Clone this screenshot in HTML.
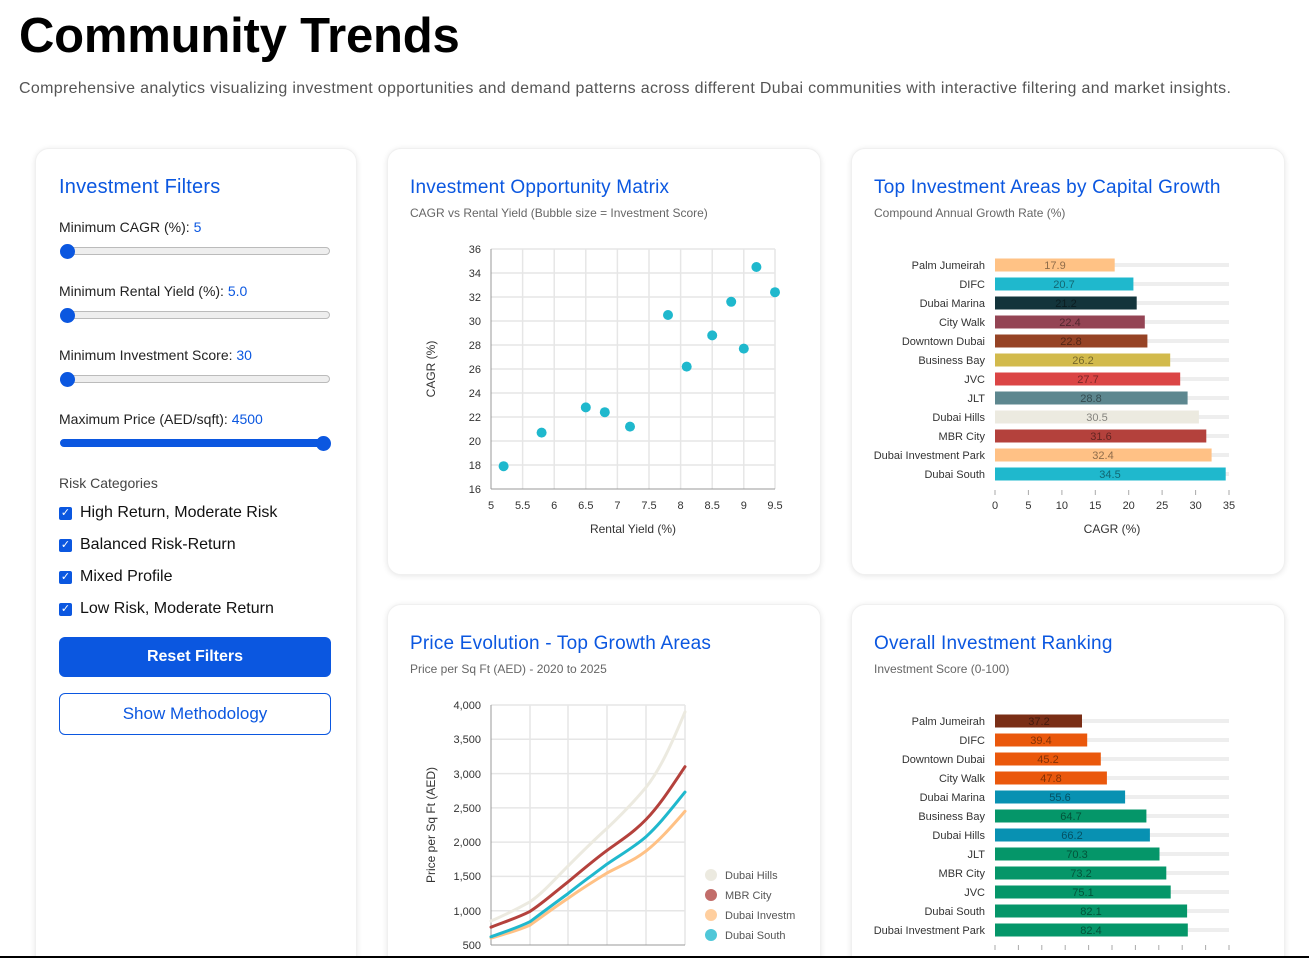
<!DOCTYPE html>
<html><head><meta charset="utf-8"><style>
html,body{margin:0;width:1309px;height:958px;overflow:hidden}
body{background:#fff;font-family:"Liberation Sans",sans-serif;position:relative}
.a{position:absolute;white-space:nowrap}
.card{position:absolute;background:#fff;border-radius:14px;box-shadow:0 1px 6px rgba(0,0,0,0.10);border:1px solid #f0f0f0}
.h{color:#0b57e0;font-size:19px;letter-spacing:0.2px}
.sub{color:#666;font-size:12px}
.lbl{font-size:14px;color:#222}
.lbl b{color:#0b57e0;font-weight:normal}
.track{position:absolute;height:6px;border-radius:4px;background:#eee;border:1px solid #bbb}
.thumb{position:absolute;width:15px;height:15px;border-radius:50%;background:#0b57e0}
.cb{position:absolute;width:13px;height:13px;background:#0b57e0;border-radius:2px;color:#fff;font-size:11px;line-height:13px;text-align:center}
.ck{font-size:16px;color:#111}
</style></head><body>
<div class="a" style="left:19px;top:8px;font-size:49px;font-weight:bold;color:#000;letter-spacing:-0.2px">Community Trends</div>
<div class="a" style="left:19px;top:80px;font-size:16px;color:#555;letter-spacing:0.33px">Comprehensive analytics visualizing investment opportunities and demand patterns across different Dubai communities with interactive filtering and market insights.</div>

<div class="card" style="left:35px;top:148px;width:320px;height:830px"></div>
<div class="card" style="left:387px;top:148px;width:432px;height:425px"></div>
<div class="card" style="left:851px;top:148px;width:432px;height:425px"></div>
<div class="card" style="left:387px;top:604px;width:432px;height:380px"></div>
<div class="card" style="left:851px;top:604px;width:432px;height:380px"></div>

<div class="a h" style="left:59px;top:176px;font-size:20px">Investment Filters</div>
<div class="a lbl" style="left:59px;top:219px">Minimum CAGR (%): <b>5</b></div>
<div class="track" style="left:60px;top:247px;width:268px"></div><div class="thumb" style="left:60px;top:244px"></div>
<div class="a lbl" style="left:59px;top:283px">Minimum Rental Yield (%): <b>5.0</b></div>
<div class="track" style="left:60px;top:311px;width:268px"></div><div class="thumb" style="left:60px;top:308px"></div>
<div class="a lbl" style="left:59px;top:347px">Minimum Investment Score: <b>30</b></div>
<div class="track" style="left:60px;top:375px;width:268px"></div><div class="thumb" style="left:60px;top:372px"></div>
<div class="a lbl" style="left:59px;top:411px">Maximum Price (AED/sqft): <b>4500</b></div>
<div class="track" style="left:60px;top:439px;width:268px;background:#0b57e0;border-color:#0b57e0"></div><div class="thumb" style="left:316px;top:436px"></div>
<div class="a" style="left:59px;top:475px;font-size:14px;color:#444">Risk Categories</div>
<div class="cb" style="left:59px;top:507px">✓</div><div class="a ck" style="left:80px;top:504px">High Return, Moderate Risk</div>
<div class="cb" style="left:59px;top:539px">✓</div><div class="a ck" style="left:80px;top:536px">Balanced Risk-Return</div>
<div class="cb" style="left:59px;top:571px">✓</div><div class="a ck" style="left:80px;top:568px">Mixed Profile</div>
<div class="cb" style="left:59px;top:603px">✓</div><div class="a ck" style="left:80px;top:600px">Low Risk, Moderate Return</div>
<div class="a" style="left:59px;top:637px;width:272px;height:40px;background:#0b57e0;border-radius:6px;color:#fff;font-size:16px;font-weight:bold;text-align:center;line-height:40px">Reset Filters</div>
<div class="a" style="left:59px;top:693px;width:270px;height:40px;border:1px solid #0b57e0;border-radius:6px;color:#0b57e0;font-size:17px;text-align:center;line-height:40px">Show Methodology</div>

<div class="a h" style="left:410px;top:177px">Investment Opportunity Matrix</div>
<div class="a sub" style="left:410px;top:206px">CAGR vs Rental Yield (Bubble size = Investment Score)</div>
<div class="a h" style="left:874px;top:177px">Top Investment Areas by Capital Growth</div>
<div class="a sub" style="left:874px;top:206px">Compound Annual Growth Rate (%)</div>
<div class="a h" style="left:410px;top:633px">Price Evolution - Top Growth Areas</div>
<div class="a sub" style="left:410px;top:662px">Price per Sq Ft (AED) - 2020 to 2025</div>
<div class="a h" style="left:874px;top:633px">Overall Investment Ranking</div>
<div class="a sub" style="left:874px;top:662px">Investment Score (0-100)</div>

<svg class="a" style="left:0;top:0" width="1309" height="958" font-family="Liberation Sans, sans-serif" font-size="11" fill="#333">
<g stroke="#e6e6e6" stroke-width="1.5">
<line x1="491" y1="249" x2="775" y2="249"/><line x1="491" y1="273" x2="775" y2="273"/><line x1="491" y1="297" x2="775" y2="297"/><line x1="491" y1="321" x2="775" y2="321"/><line x1="491" y1="345" x2="775" y2="345"/><line x1="491" y1="369" x2="775" y2="369"/><line x1="491" y1="393" x2="775" y2="393"/><line x1="491" y1="417" x2="775" y2="417"/><line x1="491" y1="441" x2="775" y2="441"/><line x1="491" y1="465" x2="775" y2="465"/>
<line x1="522.6" y1="249" x2="522.6" y2="489"/><line x1="554.2" y1="249" x2="554.2" y2="489"/><line x1="585.8" y1="249" x2="585.8" y2="489"/><line x1="617.4" y1="249" x2="617.4" y2="489"/><line x1="649" y1="249" x2="649" y2="489"/><line x1="680.6" y1="249" x2="680.6" y2="489"/><line x1="712.2" y1="249" x2="712.2" y2="489"/><line x1="743.8" y1="249" x2="743.8" y2="489"/><line x1="775" y1="249" x2="775" y2="489"/>
</g>
<g stroke="#999"><line x1="491" y1="249" x2="491" y2="489"/><line x1="491" y1="489" x2="775" y2="489"/></g>
<g text-anchor="end"><text x="481" y="253">36</text><text x="481" y="277">34</text><text x="481" y="301">32</text><text x="481" y="325">30</text><text x="481" y="349">28</text><text x="481" y="373">26</text><text x="481" y="397">24</text><text x="481" y="421">22</text><text x="481" y="445">20</text><text x="481" y="469">18</text><text x="481" y="493">16</text></g>
<g text-anchor="middle"><text x="491" y="509">5</text><text x="522.6" y="509">5.5</text><text x="554.2" y="509">6</text><text x="585.8" y="509">6.5</text><text x="617.4" y="509">7</text><text x="649" y="509">7.5</text><text x="680.6" y="509">8</text><text x="712.2" y="509">8.5</text><text x="743.8" y="509">9</text><text x="775" y="509">9.5</text>
<text x="633" y="533" font-size="12">Rental Yield (%)</text>
<text transform="translate(435,369) rotate(-90)" font-size="12">CAGR (%)</text></g>
<g fill="#1fb8cd"><circle cx="503.6" cy="466.2" r="5"/><circle cx="541.6" cy="432.6" r="5"/><circle cx="585.8" cy="407.4" r="5"/><circle cx="604.8" cy="412.2" r="5"/><circle cx="630" cy="426.6" r="5"/><circle cx="668" cy="315" r="5"/><circle cx="686.7" cy="366.6" r="5"/><circle cx="712.2" cy="335.4" r="5"/><circle cx="731.2" cy="301.8" r="5"/><circle cx="743.8" cy="348.6" r="5"/><circle cx="756.4" cy="267" r="5"/><circle cx="775" cy="292.2" r="5"/></g>

<g fill="#eee"><rect x="995" y="263" width="234" height="4"/><rect x="995" y="282" width="234" height="4"/><rect x="995" y="301" width="234" height="4"/><rect x="995" y="320" width="234" height="4"/><rect x="995" y="339" width="234" height="4"/><rect x="995" y="358" width="234" height="4"/><rect x="995" y="377" width="234" height="4"/><rect x="995" y="396" width="234" height="4"/><rect x="995" y="415" width="234" height="4"/><rect x="995" y="434" width="234" height="4"/><rect x="995" y="453" width="234" height="4"/><rect x="995" y="472" width="234" height="4"/></g>
<rect x="995" y="258.5" width="119.7" height="13" fill="#ffc285"/>
<rect x="995" y="277.5" width="138.4" height="13" fill="#1fb8cd"/>
<rect x="995" y="296.5" width="141.7" height="13" fill="#13343b"/>
<rect x="995" y="315.5" width="149.8" height="13" fill="#944454"/>
<rect x="995" y="334.5" width="152.4" height="13" fill="#964325"/>
<rect x="995" y="353.5" width="175.2" height="13" fill="#d2ba4c"/>
<rect x="995" y="372.5" width="185.2" height="13" fill="#db4545"/>
<rect x="995" y="391.5" width="192.6" height="13" fill="#5d878f"/>
<rect x="995" y="410.5" width="203.9" height="13" fill="#eceae0"/>
<rect x="995" y="429.5" width="211.3" height="13" fill="#b4413c"/>
<rect x="995" y="448.5" width="216.6" height="13" fill="#ffc185"/>
<rect x="995" y="467.5" width="230.7" height="13" fill="#1fb8cd"/>
<g text-anchor="middle" fill="rgba(0,0,0,0.45)"><text x="1055" y="269">17.9</text><text x="1064" y="288">20.7</text><text x="1066" y="307">21.2</text><text x="1070" y="326">22.4</text><text x="1071" y="345">22.8</text><text x="1083" y="364">26.2</text><text x="1088" y="383">27.7</text><text x="1091" y="402">28.8</text><text x="1097" y="421">30.5</text><text x="1101" y="440">31.6</text><text x="1103" y="459">32.4</text><text x="1110" y="478">34.5</text></g>
<g text-anchor="end"><text x="985" y="269">Palm Jumeirah</text><text x="985" y="288">DIFC</text><text x="985" y="307">Dubai Marina</text><text x="985" y="326">City Walk</text><text x="985" y="345">Downtown Dubai</text><text x="985" y="364">Business Bay</text><text x="985" y="383">JVC</text><text x="985" y="402">JLT</text><text x="985" y="421">Dubai Hills</text><text x="985" y="440">MBR City</text><text x="985" y="459">Dubai Investment Park</text><text x="985" y="478">Dubai South</text></g>
<g text-anchor="middle"><text x="995" y="509">0</text><text x="1028.4" y="509">5</text><text x="1061.9" y="509">10</text><text x="1095.3" y="509">15</text><text x="1128.7" y="509">20</text><text x="1162.1" y="509">25</text><text x="1195.6" y="509">30</text><text x="1229" y="509">35</text><text x="1112" y="533" font-size="12">CAGR (%)</text></g>
<g stroke="#aaa"><line x1="995" y1="490" x2="995" y2="495"/><line x1="1028.4" y1="490" x2="1028.4" y2="495"/><line x1="1061.9" y1="490" x2="1061.9" y2="495"/><line x1="1095.3" y1="490" x2="1095.3" y2="495"/><line x1="1128.7" y1="490" x2="1128.7" y2="495"/><line x1="1162.1" y1="490" x2="1162.1" y2="495"/><line x1="1195.6" y1="490" x2="1195.6" y2="495"/><line x1="1229" y1="490" x2="1229" y2="495"/></g>

<g fill="#eee"><rect x="995" y="719" width="234" height="4"/><rect x="995" y="738" width="234" height="4"/><rect x="995" y="757" width="234" height="4"/><rect x="995" y="776" width="234" height="4"/><rect x="995" y="795" width="234" height="4"/><rect x="995" y="814" width="234" height="4"/><rect x="995" y="833" width="234" height="4"/><rect x="995" y="852" width="234" height="4"/><rect x="995" y="871" width="234" height="4"/><rect x="995" y="890" width="234" height="4"/><rect x="995" y="909" width="234" height="4"/><rect x="995" y="928" width="234" height="4"/></g>
<rect x="995" y="714.5" width="87" height="13" fill="#7a2e16"/>
<rect x="995" y="733.5" width="92.2" height="13" fill="#ea580c"/>
<rect x="995" y="752.5" width="105.8" height="13" fill="#ea580c"/>
<rect x="995" y="771.5" width="111.9" height="13" fill="#ea580c"/>
<rect x="995" y="790.5" width="130.1" height="13" fill="#0891b2"/>
<rect x="995" y="809.5" width="151.4" height="13" fill="#059669"/>
<rect x="995" y="828.5" width="154.9" height="13" fill="#0891b2"/>
<rect x="995" y="847.5" width="164.5" height="13" fill="#059669"/>
<rect x="995" y="866.5" width="171.3" height="13" fill="#059669"/>
<rect x="995" y="885.5" width="175.7" height="13" fill="#059669"/>
<rect x="995" y="904.5" width="192.1" height="13" fill="#059669"/>
<rect x="995" y="923.5" width="192.8" height="13" fill="#059669"/>
<g text-anchor="middle" fill="rgba(0,0,0,0.45)"><text x="1039" y="725">37.2</text><text x="1041" y="744">39.4</text><text x="1048" y="763">45.2</text><text x="1051" y="782">47.8</text><text x="1060" y="801">55.6</text><text x="1071" y="820">64.7</text><text x="1072" y="839">66.2</text><text x="1077" y="858">70.3</text><text x="1081" y="877">73.2</text><text x="1083" y="896">75.1</text><text x="1091" y="915">82.1</text><text x="1091" y="934">82.4</text></g>
<g text-anchor="end"><text x="985" y="725">Palm Jumeirah</text><text x="985" y="744">DIFC</text><text x="985" y="763">Downtown Dubai</text><text x="985" y="782">City Walk</text><text x="985" y="801">Dubai Marina</text><text x="985" y="820">Business Bay</text><text x="985" y="839">Dubai Hills</text><text x="985" y="858">JLT</text><text x="985" y="877">MBR City</text><text x="985" y="896">JVC</text><text x="985" y="915">Dubai South</text><text x="985" y="934">Dubai Investment Park</text></g>
<g stroke="#aaa"><line x1="995" y1="945" x2="995" y2="950"/><line x1="1018.4" y1="945" x2="1018.4" y2="950"/><line x1="1041.8" y1="945" x2="1041.8" y2="950"/><line x1="1065.2" y1="945" x2="1065.2" y2="950"/><line x1="1088.6" y1="945" x2="1088.6" y2="950"/><line x1="1112" y1="945" x2="1112" y2="950"/><line x1="1135.4" y1="945" x2="1135.4" y2="950"/><line x1="1158.8" y1="945" x2="1158.8" y2="950"/><line x1="1182.2" y1="945" x2="1182.2" y2="950"/><line x1="1205.6" y1="945" x2="1205.6" y2="950"/><line x1="1229" y1="945" x2="1229" y2="950"/></g>

<g stroke="#e6e6e6" stroke-width="1.5">
<line x1="491" y1="705" x2="685" y2="705"/><line x1="491" y1="739.3" x2="685" y2="739.3"/><line x1="491" y1="773.6" x2="685" y2="773.6"/><line x1="491" y1="807.9" x2="685" y2="807.9"/><line x1="491" y1="842.1" x2="685" y2="842.1"/><line x1="491" y1="876.4" x2="685" y2="876.4"/><line x1="491" y1="910.7" x2="685" y2="910.7"/>
<line x1="530" y1="705" x2="530" y2="945"/><line x1="568" y1="705" x2="568" y2="945"/><line x1="607" y1="705" x2="607" y2="945"/><line x1="646" y1="705" x2="646" y2="945"/><line x1="685" y1="705" x2="685" y2="945"/>
</g>
<g stroke="#999"><line x1="491" y1="705" x2="491" y2="945"/><line x1="491" y1="945" x2="685" y2="945"/></g>
<g text-anchor="end"><text x="481" y="709">4,000</text><text x="481" y="743">3,500</text><text x="481" y="778">3,000</text><text x="481" y="812">2,500</text><text x="481" y="846">2,000</text><text x="481" y="880">1,500</text><text x="481" y="915">1,000</text><text x="481" y="949">500</text></g>
<text transform="translate(435,825) rotate(-90)" text-anchor="middle" font-size="12">Price per Sq Ft (AED)</text>
<g fill="none" stroke-width="3" stroke-linejoin="round" stroke-linecap="round">
<path stroke="#eceae0" d="M491,921 C505,915 517,909 530,901.8 C543,893 555,879 568,866.1 C581,853 594,840 607,828.4 C620,816 633,803 646,787.3 C660,770 672,743 685,711.9"/>
<path stroke="#b4413c" d="M491,927.2 C504,922 517,918 530,911.4 C543,903 555,892 568,881.9 C581,871 594,860 607,850.4 C620,841 633,833 646,819.5 C660,805 672,786 685,766.7"/>
<path stroke="#ffc185" d="M491,938.1 C504,934 517,931 530,925.1 C543,916 555,907 568,898.4 C581,889 594,881 607,873 C620,866 633,861 646,851.1 C660,840 672,826 685,811.3"/>
<path stroke="#1fb8cd" d="M491,936.8 C504,932 517,928 530,921.7 C543,912 555,903 568,893.6 C581,883 594,874 607,864.1 C620,855 633,848 646,836.7 C660,824 672,808 685,792.1"/>
</g>
<g font-size="11" fill="#555"><circle cx="711" cy="875" r="6" fill="#eceae0"/><text x="725" y="879">Dubai Hills</text>
<circle cx="711" cy="895" r="6" fill="#c26d6a"/><text x="725" y="899">MBR City</text>
<circle cx="711" cy="915" r="6" fill="#ffcf9f"/><text x="725" y="919">Dubai Investm</text>
<circle cx="711" cy="935" r="6" fill="#4fc7d8"/><text x="725" y="939">Dubai South</text></g>
<line x1="0" y1="957" x2="1309" y2="957" stroke="#000" stroke-width="2"/>
</svg>
</body></html>
